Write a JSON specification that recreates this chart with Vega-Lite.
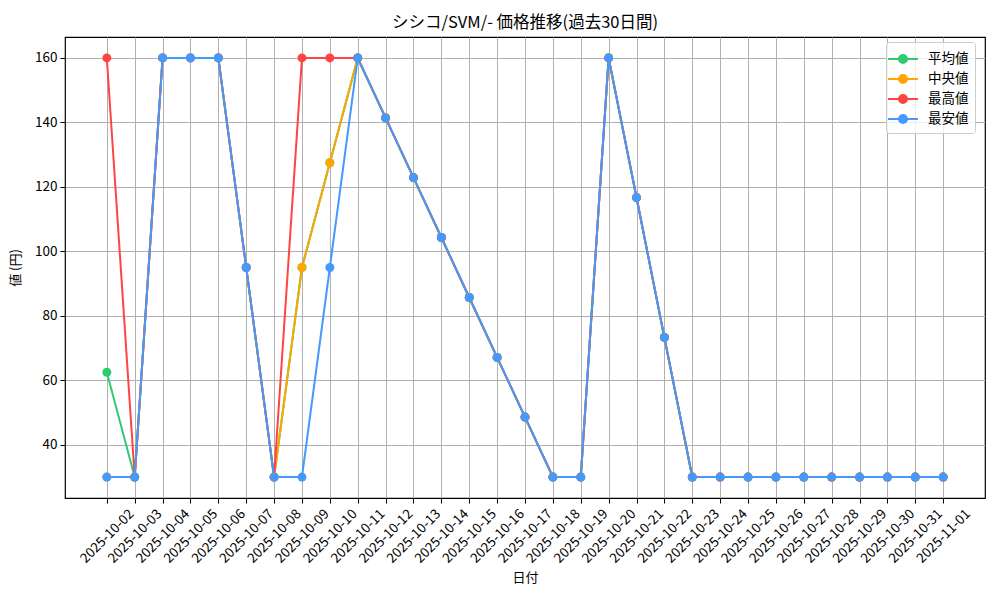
{
  "$schema": "https://vega.github.io/schema/vega-lite/v6.json",
  "autosize": "none",
  "padding": {"left": 65, "top": 37, "right": 15, "bottom": 102},
  "width": 920,
  "height": 461,
  "background": "white",
  "title": {
    "text": "シシコ/SVM/- 価格推移(過去30日間)",
    "font": "Noto Sans CJK JP",
    "fontSize": 16.5,
    "fontWeight": "normal",
    "color": "black",
    "anchor": "middle",
    "offset": 6
  },
  "data": {
    "values": [
      {"date": "2025-10-02", "平均値": 62.5, "中央値": 30, "最高値": 160, "最安値": 30},
      {"date": "2025-10-03", "平均値": 30, "中央値": 30, "最高値": 30, "最安値": 30},
      {"date": "2025-10-04", "平均値": 160, "中央値": 160, "最高値": 160, "最安値": 160},
      {"date": "2025-10-05", "平均値": 160, "中央値": 160, "最高値": 160, "最安値": 160},
      {"date": "2025-10-06", "平均値": 160, "中央値": 160, "最高値": 160, "最安値": 160},
      {"date": "2025-10-07", "平均値": 95, "中央値": 95, "最高値": 95, "最安値": 95},
      {"date": "2025-10-08", "平均値": 30, "中央値": 30, "最高値": 30, "最安値": 30},
      {"date": "2025-10-09", "平均値": 95, "中央値": 95, "最高値": 160, "最安値": 30},
      {"date": "2025-10-10", "平均値": 127.5, "中央値": 127.5, "最高値": 160, "最安値": 95},
      {"date": "2025-10-11", "平均値": 160, "中央値": 160, "最高値": 160, "最安値": 160},
      {"date": "2025-10-12", "平均値": 141.4, "中央値": 141.4, "最高値": 141.4, "最安値": 141.4},
      {"date": "2025-10-13", "平均値": 122.9, "中央値": 122.9, "最高値": 122.9, "最安値": 122.9},
      {"date": "2025-10-14", "平均値": 104.3, "中央値": 104.3, "最高値": 104.3, "最安値": 104.3},
      {"date": "2025-10-15", "平均値": 85.7, "中央値": 85.7, "最高値": 85.7, "最安値": 85.7},
      {"date": "2025-10-16", "平均値": 67.1, "中央値": 67.1, "最高値": 67.1, "最安値": 67.1},
      {"date": "2025-10-17", "平均値": 48.6, "中央値": 48.6, "最高値": 48.6, "最安値": 48.6},
      {"date": "2025-10-18", "平均値": 30, "中央値": 30, "最高値": 30, "最安値": 30},
      {"date": "2025-10-19", "平均値": 30, "中央値": 30, "最高値": 30, "最安値": 30},
      {"date": "2025-10-20", "平均値": 160, "中央値": 160, "最高値": 160, "最安値": 160},
      {"date": "2025-10-21", "平均値": 116.7, "中央値": 116.7, "最高値": 116.7, "最安値": 116.7},
      {"date": "2025-10-22", "平均値": 73.3, "中央値": 73.3, "最高値": 73.3, "最安値": 73.3},
      {"date": "2025-10-23", "平均値": 30, "中央値": 30, "最高値": 30, "最安値": 30},
      {"date": "2025-10-24", "平均値": 30, "中央値": 30, "最高値": 30, "最安値": 30},
      {"date": "2025-10-25", "平均値": 30, "中央値": 30, "最高値": 30, "最安値": 30},
      {"date": "2025-10-26", "平均値": 30, "中央値": 30, "最高値": 30, "最安値": 30},
      {"date": "2025-10-27", "平均値": 30, "中央値": 30, "最高値": 30, "最安値": 30},
      {"date": "2025-10-28", "平均値": 30, "中央値": 30, "最高値": 30, "最安値": 30},
      {"date": "2025-10-29", "平均値": 30, "中央値": 30, "最高値": 30, "最安値": 30},
      {"date": "2025-10-30", "平均値": 30, "中央値": 30, "最高値": 30, "最安値": 30},
      {"date": "2025-10-31", "平均値": 30, "中央値": 30, "最高値": 30, "最安値": 30},
      {"date": "2025-11-01", "平均値": 30, "中央値": 30, "最高値": 30, "最安値": 30}
    ]
  },
  "transform": [
    {"fold": ["平均値", "中央値", "最高値", "最安値"], "as": ["series", "value"]}
  ],
  "mark": {
    "type": "line",
    "strokeWidth": 2,
    "point": {"filled": true, "size": 80, "opacity": 1}
  },
  "encoding": {
    "x": {
      "field": "date",
      "type": "temporal",
      "scale": {
        "type": "utc",
        "domain": [1759233600000, 1762084800000],
        "nice": false
      },
      "axis": {
        "title": "日付",
        "values": [
          1759363200000, 1759449600000, 1759536000000, 1759622400000, 1759708800000,
          1759795200000, 1759881600000, 1759968000000, 1760054400000, 1760140800000,
          1760227200000, 1760313600000, 1760400000000, 1760486400000, 1760572800000,
          1760659200000, 1760745600000, 1760832000000, 1760918400000, 1761004800000,
          1761091200000, 1761177600000, 1761264000000, 1761350400000, 1761436800000,
          1761523200000, 1761609600000, 1761696000000, 1761782400000, 1761868800000,
          1761955200000
        ],
        "labelExpr": "utcFormat(datum.value, '%Y-%m-%d')",
        "labelAngle": -45,
        "labelAlign": "center",
        "labelBaseline": "middle",
        "labelPadding": 33,
        "labelFontSize": 13.5,
        "labelOverlap": false,
        "labelFlush": false,
        "titlePadding": 6
      }
    },
    "y": {
      "field": "value",
      "type": "quantitative",
      "scale": {"domain": [23.5, 166.5], "nice": false, "zero": false},
      "axis": {
        "title": "値 (円)",
        "values": [40, 60, 80, 100, 120, 140, 160],
        "labelFontSize": 13.5,
        "labelPadding": 3,
        "titlePadding": 12
      }
    },
    "color": {
      "field": "series",
      "type": "nominal",
      "sort": ["平均値", "中央値", "最高値", "最安値"],
      "scale": {
        "domain": ["平均値", "中央値", "最高値", "最安値"],
        "range": ["#2ECC71", "#FFA500", "#FF4444", "#4499FF"]
      },
      "legend": {
        "title": null,
        "orient": "none",
        "legendX": 821,
        "legendY": 5,
        "padding": 6,
        "fillColor": "rgba(255,255,255,0.8)",
        "strokeColor": "#cccccc",
        "cornerRadius": 3,
        "symbolType": "M-1.5,0L1.5,0M-0.4,0A0.4,0.4,0,1,1,0.4,0A0.4,0.4,0,1,1,-0.4,0Z",
        "symbolSize": 400,
        "symbolStrokeWidth": 2,
        "rowPadding": 1,
        "labelOffset": 14,
        "labelFontSize": 13.5,
        "labelFont": "Noto Sans CJK JP",
        "labelColor": "black",
        "encode": {
          "symbols": {
            "update": {
              "fill": {"scale": "color", "field": "value"},
              "stroke": {"scale": "color", "field": "value"},
              "opacity": {"value": 1}
            }
          }
        }
      }
    }
  },
  "config": {
    "view": {"stroke": "black", "strokeWidth": 1.2},
    "axis": {
      "grid": true,
      "gridColor": "#b0b0b0",
      "gridWidth": 1,
      "gridOpacity": 1,
      "domain": false,
      "tickColor": "black",
      "tickSize": 5,
      "labelColor": "black",
      "labelFont": "Noto Sans CJK JP",
      "labelFontSize": 12,
      "titleFont": "Noto Sans CJK JP",
      "titleFontSize": 13,
      "titleFontWeight": "normal",
      "titleColor": "black"
    }
  }
}
